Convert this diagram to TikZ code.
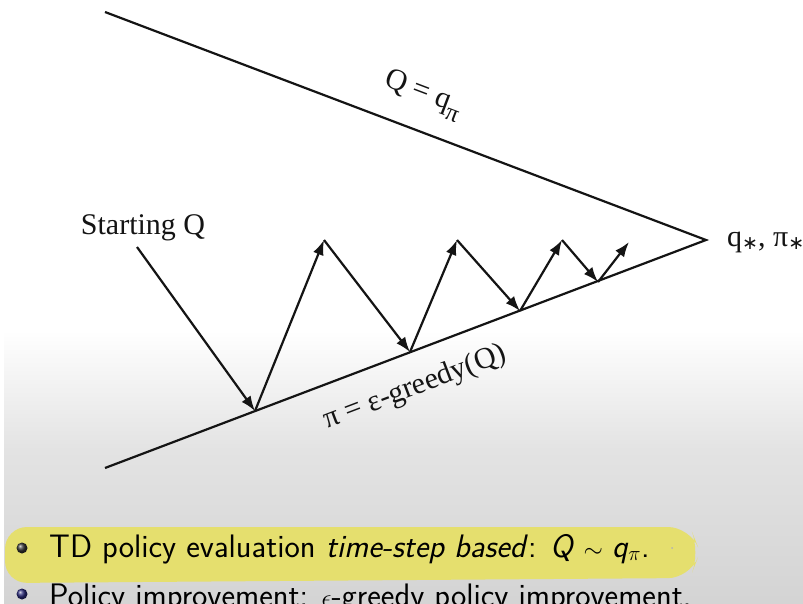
\documentclass[tikz,border=0pt]{standalone}
\usepackage{fontspec}
\setmainfont{Liberation Serif}
\newfontfamily\dejavu{DejaVu Sans}
\usetikzlibrary{arrows.meta}
\definecolor{hl}{RGB}{229,223,110}
\definecolor{ink}{RGB}{20,20,20}
\definecolor{bulletblue}{RGB}{40,40,120}
\tikzset{
  mainline/.style={ink, line width=2.2pt},
  arr/.style={ink, line width=2.2pt, -{Latex[length=15pt,width=11pt]}},
  lbl/.style={font=\fontsize{30}{34}\selectfont, text=ink, inner sep=0pt},
  bul/.style={font=\sffamily\fontsize{32.5}{36}\selectfont, text=black, inner sep=0pt, anchor=base west},
}
\newcommand{\subpi}{\raisebox{-0.32em}{\fontsize{25}{25}\selectfont π}}
\newcommand{\substar}{\raisebox{-0.12em}{\dejavu\fontsize{19}{19}\selectfont ∗}}
\begin{document}
\begin{tikzpicture}[x=1pt,y=-1pt]
\useasboundingbox (0,0) rectangle (803,604);
% background
\fill[white] (0,0) rectangle (803,604);
\shade[top color=white, bottom color=gray!22] (0,330) rectangle (803,450);
\shade[top color=gray!22, bottom color=gray!34] (0,450) rectangle (803,604);
\fill[white] (0,0) rectangle (4,604);
% highlight
\fill[hl, rounded corners=22pt] (5,527) -- (690,527) -- (700,552) -- (690,578) -- (5,583) -- cycle;
% main lines
\coordinate (L1) at (105,12);
\coordinate (V) at (706,240);
\coordinate (L2) at (105,468);
\draw[mainline] (L1) -- (V) -- (L2);
% zigzag points
\coordinate (S) at (137,247);
\coordinate (b1) at (255,411);
\coordinate (t1) at (324,240);
\coordinate (b2) at (410,352);
\coordinate (t2) at (457,240);
\coordinate (b3) at (520,311);
\coordinate (t3) at (562,240);
\coordinate (b4) at (598,282);
\coordinate (t4) at (629,242);
\draw[arr] (S) -- (b1);
\draw[arr] (b1) -- (t1);
\draw[arr] (t1) -- (b2);
\draw[arr] (b2) -- (t2);
\draw[arr] (t2) -- (b3);
\draw[arr] (b3) -- (t3);
\draw[arr] (t3) -- (b4);
\draw[arr] (b4) -- (t4);
% labels
\node[lbl, anchor=base] (start) at (143,234) {Starting Q};
\node[lbl, rotate=-20.8] (qeq) at (423,95) {Q = q\subpi};
\node[lbl, rotate=20.8] (peq) at (415,388) {π = ε-greedy(Q)};
\node[lbl, anchor=base west] (qstar) at (727,246) {q\substar, π\substar};
% bullets
\shade[ball color=black!80] (22,548) circle (5.5pt);
\shade[ball color=bulletblue] (22,594) circle (5.5pt);
\node[bul] (line1) at (49,557) {TD policy evaluation \textit{time-step based}: \textit{Q}\;$\sim$\;\textit{q}$_\pi$.};
\node[bul] (line2) at (49,606) {Policy improvement: $\epsilon$-greedy policy improvement.};
\fill[gray!60] (672,548) circle (1pt);
\end{tikzpicture}
\end{document}
